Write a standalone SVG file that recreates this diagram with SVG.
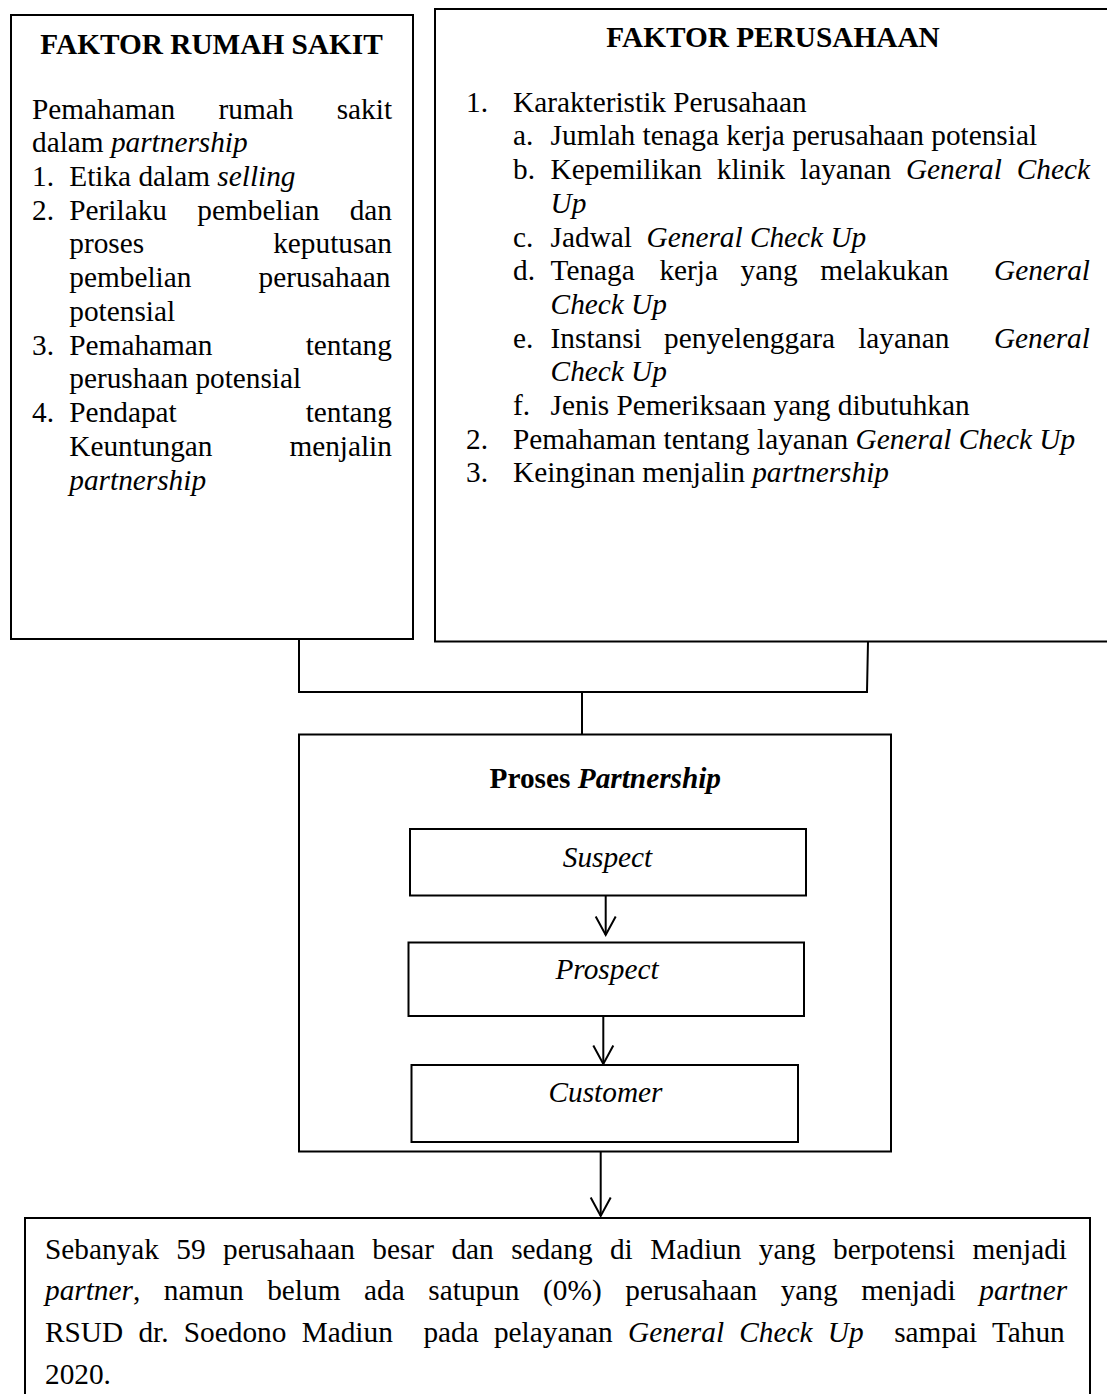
<svg xmlns="http://www.w3.org/2000/svg" width="1107" height="1394" viewBox="0 0 1107 1394">
<defs>
<style>
.box{fill:#fff;stroke:#000;stroke-width:2}
.t{font-family:"Liberation Serif","Times New Roman",serif;font-size:29.3px;fill:#000}
.b{font-weight:bold}
.i{font-style:italic}
.m{text-anchor:middle}
.c{fill:none;stroke:#000;stroke-width:2}
</style>
<marker id="ah" markerUnits="userSpaceOnUse" viewBox="-21 -12 23 24" markerWidth="23" markerHeight="24" refX="0" refY="0" orient="auto" overflow="visible">
<path d="M-18.5,-10 L0,0 L-18.5,10" fill="none" stroke="#000" stroke-width="2"/>
</marker>
</defs>
<rect width="1107" height="1394" fill="#fff"/>

<g id="faktor-rumah-sakit">
<rect class="box" x="11" y="15" width="402" height="624"/>
<text class="t b m" x="211.5" y="53.5">FAKTOR RUMAH SAKIT</text>
<text class="t" y="118.5"><tspan x="32">Pemahaman</tspan><tspan x="218.5">rumah</tspan><tspan x="336.7">sakit</tspan></text>
<text class="t" x="32" y="152.2">dalam <tspan class="i">partnership</tspan></text>
<text class="t" x="32" y="186">1.</text>
<text class="t" x="69.3" y="186">Etika dalam <tspan class="i">selling</tspan></text>
<text class="t" x="32" y="219.7">2.</text>
<text class="t" y="219.7"><tspan x="69.3">Perilaku</tspan><tspan x="197.3">pembelian</tspan><tspan x="349.7">dan</tspan></text>
<text class="t" y="253.4"><tspan x="69.3">proses</tspan><tspan x="273.2">keputusan</tspan></text>
<text class="t" y="287.2"><tspan x="69.3">pembelian</tspan><tspan x="258.6">perusahaan</tspan></text>
<text class="t" x="69.3" y="320.9">potensial</text>
<text class="t" x="32" y="354.6">3.</text>
<text class="t" y="354.6"><tspan x="69.3">Pemahaman</tspan><tspan x="305.7">tentang</tspan></text>
<text class="t" x="69.3" y="388.3">perushaan potensial</text>
<text class="t" x="32" y="422.1">4.</text>
<text class="t" y="422.1"><tspan x="69.3">Pendapat</tspan><tspan x="305.7">tentang</tspan></text>
<text class="t" y="455.8"><tspan x="69.3">Keuntungan</tspan><tspan x="289.4">menjalin</tspan></text>
<text class="t i" x="69.3" y="489.5">partnership</text>
</g>

<g id="faktor-perusahaan">
<rect class="box" x="435" y="9" width="690" height="632.5"/>
<text class="t b m" x="773" y="47">FAKTOR PERUSAHAAN</text>
<text class="t" x="466" y="111.7">1.</text>
<text class="t" x="513" y="111.7">Karakteristik Perusahaan</text>
<text class="t" x="513" y="145.4">a.</text>
<text class="t" x="550.6" y="145.4">Jumlah tenaga kerja perusahaan potensial</text>
<text class="t" x="513" y="179.1">b.</text>
<text class="t" y="179.1"><tspan x="550.6">Kepemilikan</tspan><tspan x="716.8">klinik</tspan><tspan x="800">layanan</tspan><tspan class="i" x="905.9">General</tspan><tspan class="i" x="1016.8">Check</tspan></text>
<text class="t i" x="550.6" y="212.8">Up</text>
<text class="t" x="513" y="246.5">c.</text>
<text class="t" x="550.6" y="246.5">Jadwal</text>
<text class="t i" x="646.6" y="246.5">General Check Up</text>
<text class="t" x="513" y="280.2">d.</text>
<text class="t" y="280.2"><tspan x="550.6">Tenaga</tspan><tspan x="659.4">kerja</tspan><tspan x="740.6">yang</tspan><tspan x="820.2">melakukan</tspan><tspan class="i" x="994">General</tspan></text>
<text class="t i" x="550.6" y="313.9">Check Up</text>
<text class="t" x="513" y="347.6">e.</text>
<text class="t" y="347.6"><tspan x="550.6">Instansi</tspan><tspan x="664.1">penyelenggara</tspan><tspan x="858.2">layanan</tspan><tspan class="i" x="993.9">General</tspan></text>
<text class="t i" x="550.6" y="381.3">Check Up</text>
<text class="t" x="513" y="415">f.</text>
<text class="t" x="550.6" y="415">Jenis Pemeriksaan yang dibutuhkan</text>
<text class="t" x="466" y="448.7">2.</text>
<text class="t" x="513" y="448.7">Pemahaman tentang layanan <tspan class="i">General Check Up</tspan></text>
<text class="t" x="466" y="482.4">3.</text>
<text class="t" x="513" y="482.4">Keinginan menjalin <tspan class="i">partnership</tspan></text>
</g>

<g id="proses-partnership">
<rect class="box" x="299" y="734.5" width="592" height="417"/>
<text class="t b" x="489.6" y="788">Proses <tspan class="i">Partnership</tspan></text>
</g>

<g id="suspect">
<rect class="box" x="410" y="829" width="396" height="66.5"/>
<text class="t i m" x="607.5" y="867">Suspect</text>
</g>

<g id="prospect">
<rect class="box" x="408.5" y="942.5" width="395.5" height="73.5"/>
<text class="t i m" x="607" y="979.3">Prospect</text>
</g>

<g id="customer">
<rect class="box" x="411.5" y="1065" width="386.5" height="77"/>
<text class="t i m" x="605.5" y="1101.5">Customer</text>
</g>

<g id="hasil">
<rect class="box" x="25" y="1218" width="1065" height="200"/>
<text class="t" x="45" y="1258.5" word-spacing="10.1">Sebanyak 59 perusahaan besar dan sedang di Madiun yang berpotensi menjadi</text>
<text class="t" x="45" y="1300.2" word-spacing="16.3"><tspan class="i">partner</tspan>, namun belum ada satupun (0%) perusahaan yang menjadi <tspan class="i">partner</tspan></text>
<text class="t" x="45" y="1341.9" word-spacing="7.96">RSUD dr. Soedono Madiun <tspan dx="15.3">pada</tspan> pelayanan <tspan class="i">General Check Up</tspan> <tspan dx="15.3">sampai</tspan> Tahun</text>
<text class="t" x="45" y="1383.6">2020.</text>
</g>

<g id="connectors">
<path class="c" d="M299,639 V692 H867 L868,641.5"/>
<path class="c" d="M582,692 V734.5"/>
<line class="c" x1="605.7" y1="895.5" x2="605.7" y2="935" marker-end="url(#ah)"/>
<line class="c" x1="603.3" y1="1016" x2="603.3" y2="1064" marker-end="url(#ah)"/>
<line class="c" x1="600.7" y1="1151.5" x2="600.7" y2="1216" marker-end="url(#ah)"/>
</g>
</svg>
